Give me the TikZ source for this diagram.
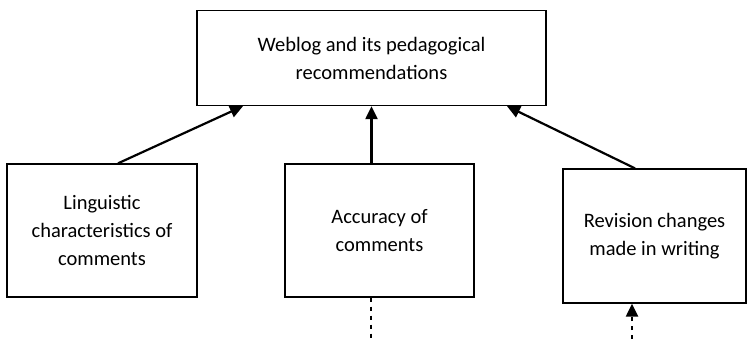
\documentclass[tikz,border=0pt]{standalone}
\usepackage{fontspec}
\setmainfont{Carlito}
\usetikzlibrary{arrows.meta}

\begin{document}
\begin{tikzpicture}[x=1pt,y=-1pt,
  box/.style={draw,line width=1.3pt,align=center,inner sep=0pt,
    font=\fontsize{20.5}{28}\selectfont},
  link/.style={line width=2.2pt,-{Triangle[length=13pt,width=12pt]}},
  dots/.style={line width=2.2pt,dash pattern=on 4.5pt off 4.5pt}]
\useasboundingbox (0,0) rectangle (747,339);
\node [box,minimum width=349pt,minimum height=95pt] (top) at (371.5,58) {Weblog and its pedagogical\\recommendations};
\node [box,minimum width=190pt,minimum height=133pt] (ling) at (102,230.5) {Linguistic\\characteristics of\\comments};
\node [box,minimum width=189pt,minimum height=133pt] (acc) at (379.5,230.5) {Accuracy of\\comments};
\node [box,minimum width=183pt,minimum height=134pt] (rev) at (654.5,236) {Revision changes\\made in writing};
\coordinate (accend) at (371,339);
\coordinate (revend) at (632,339);
\path[link] ([xshift=16pt]ling.north) edge ([xshift=-128.5pt]top.south)
            (top.south |- acc.north) edge (top.south)
            ([xshift=-19.5pt]rev.north) edge ([xshift=135.5pt]top.south);
\draw[dots] (accend |- acc.south) -- (accend);
\draw[dots,-{Triangle[length=13pt,width=12pt]}] (revend) -- (revend |- rev.south);
\end{tikzpicture}
\end{document}
